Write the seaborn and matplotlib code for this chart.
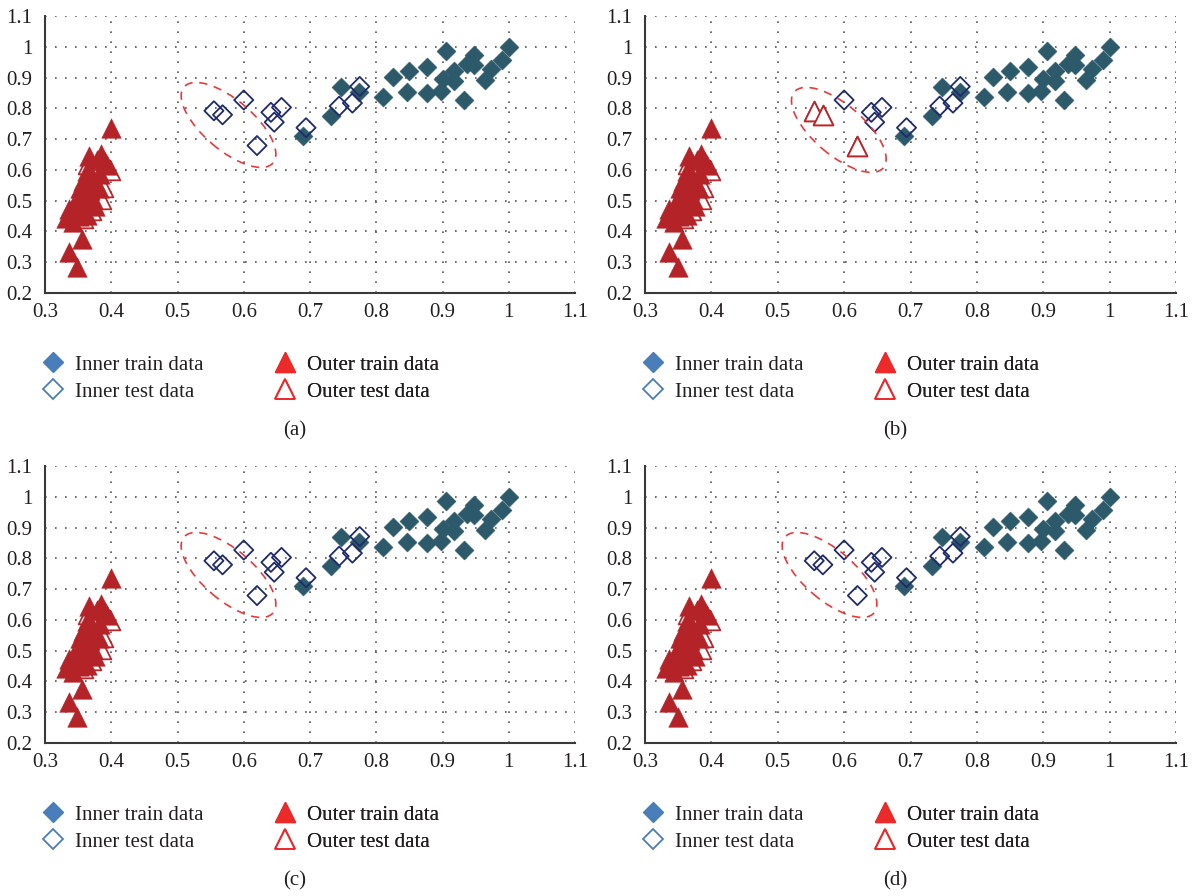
import numpy as np
import pandas as pd
import matplotlib
matplotlib.use("Agg")
import matplotlib.pyplot as plt
import seaborn as sns
from matplotlib.patches import Ellipse
from matplotlib.lines import Line2D
from matplotlib.transforms import ScaledTranslation

# ---------------- data ----------------
inner_train_x = [0.690, 0.732, 0.747, 0.774, 0.810, 0.825, 0.846, 0.850, 0.877, 0.877, 0.897, 0.900,
                 0.905, 0.917, 0.917, 0.932, 0.937, 0.948, 0.948, 0.964, 0.973, 0.990, 1.000]
inner_train_y = [0.711, 0.776, 0.870, 0.852, 0.836, 0.901, 0.852, 0.922, 0.934, 0.850, 0.856, 0.894,
                 0.986, 0.922, 0.889, 0.826, 0.944, 0.974, 0.941, 0.893, 0.929, 0.956, 1.000]

inner_test_x = [0.555, 0.568, 0.600, 0.620, 0.641, 0.646, 0.657, 0.694, 0.744, 0.764, 0.775]
inner_test_y = [0.792, 0.779, 0.827, 0.679, 0.787, 0.755, 0.803, 0.737, 0.807, 0.817, 0.871]

outer_train_x = [0.400, 0.367, 0.385, 0.391, 0.393, 0.378, 0.363, 0.371, 0.358, 0.376, 0.353, 0.368,
                 0.381, 0.361, 0.373, 0.351, 0.366, 0.356, 0.343, 0.336, 0.331, 0.343, 0.351, 0.363,
                 0.356, 0.336, 0.349, 0.376, 0.383]
outer_train_y = [0.736, 0.644, 0.650, 0.627, 0.617, 0.633, 0.595, 0.579, 0.563, 0.558, 0.541, 0.536,
                 0.541, 0.515, 0.504, 0.504, 0.488, 0.472, 0.482, 0.474, 0.445, 0.431, 0.450, 0.455,
                 0.377, 0.332, 0.285, 0.482, 0.587]

outer_test_x = [0.365, 0.398, 0.385, 0.388, 0.370, 0.357]
outer_test_y = [0.618, 0.600, 0.505, 0.543, 0.470, 0.445]

# inner test points drawn as outer-test triangles in panel (b)
panel_b_misclassified = [0, 1, 3]

panel_labels = ["(a)", "(b)", "(c)", "(d)"]
ellipse_centers = [(0.577, 0.746), (0.592, 0.730), (0.577, 0.746), (0.578, 0.746)]

x_ticks = [0.3, 0.4, 0.5, 0.6, 0.7, 0.8, 0.9, 1.0, 1.1]
x_tick_labels = ["0.3", "0.4", "0.5", "0.6", "0.7", "0.8", "0.9", "1", "1.1"]
y_ticks = [0.2, 0.3, 0.4, 0.5, 0.6, 0.7, 0.8, 0.9, 1.0, 1.1]
y_tick_labels = ["0.2", "0.3", "0.4", "0.5", "0.6", "0.7", "0.8", "0.9", "1", "1.1"]

legend_labels = ["Inner train data", "Inner test data", "Outer train data", "Outer test data"]

# ---------------- style ----------------
sns.set_theme(style="white")
plt.rcParams["font.family"] = ["Liberation Serif", "DejaVu Serif"]

C_IN_TRAIN = "#2d5a6b"
C_IN_TEST = "#1f2b6a"
C_OUT_TRAIN = "#b42327"
C_OUT_TEST = "#b8272b"
C_LEG_BLUE = "#4a7ebb"
C_LEG_RED = "#ec2a2a"
C_ELLIPSE = "#e8393a"
TXT = "#231f20"
FS = 15

W, H = 1193, 896
fig = plt.figure(figsize=(W / 100, H / 100), dpi=100)
fig.patch.set_facecolor("white")

# axes boxes in pixels: left, top, right, bottom
boxes = [(45, 16, 575, 293), (645, 16, 1176, 293), (45, 466, 575, 743), (645, 466, 1176, 743)]

for k, (l, t, r, b) in enumerate(boxes):
    ax = fig.add_axes([l / W, 1 - b / H, (r - l) / W, (b - t) / H])
    ax.set_facecolor("white")

    in_test_x = list(inner_test_x)
    in_test_y = list(inner_test_y)
    o_test_x = list(outer_test_x)
    o_test_y = list(outer_test_y)
    if k == 1:
        mis_x = [inner_test_x[i] for i in panel_b_misclassified]
        mis_y = [inner_test_y[i] for i in panel_b_misclassified]
        in_test_x = [v for i, v in enumerate(inner_test_x) if i not in panel_b_misclassified]
        in_test_y = [v for i, v in enumerate(inner_test_y) if i not in panel_b_misclassified]
        o_test_x += mis_x
        o_test_y += mis_y

    sns.scatterplot(x=o_test_x, y=o_test_y, marker="^", s=200, facecolor="white",
                    edgecolor=C_OUT_TEST, linewidth=1.3, ax=ax, zorder=3)
    sns.scatterplot(x=outer_train_x, y=outer_train_y, marker="^", s=200, color=C_OUT_TRAIN,
                    edgecolor=C_OUT_TRAIN, linewidth=0.3, ax=ax, zorder=4)
    sns.scatterplot(x=inner_train_x, y=inner_train_y, marker="D", s=95, color=C_IN_TRAIN,
                    edgecolor=C_IN_TRAIN, linewidth=0.3, ax=ax, zorder=5)
    sns.scatterplot(x=in_test_x, y=in_test_y, marker="D", s=95, facecolor="none",
                    edgecolor=C_IN_TEST, linewidth=1.3, ax=ax, zorder=6)
    if k == 1:
        # misclassified test triangles drawn on top so they stay visible
        sns.scatterplot(x=o_test_x[len(outer_test_x):], y=o_test_y[len(outer_test_y):],
                        marker="^", s=200, facecolor="white", edgecolor=C_OUT_TEST,
                        linewidth=1.3, ax=ax, zorder=6)

    ax.set_xlim(0.3, 1.1)
    ax.set_ylim(0.2, 1.1)
    ax.set_xticks(x_ticks)
    ax.set_xticklabels(x_tick_labels)
    ax.set_yticks(y_ticks)
    ax.set_yticklabels(y_tick_labels)
    ax.tick_params(axis="both", length=0, labelsize=FS, labelcolor=TXT)
    ax.tick_params(axis="x", pad=7)
    ax.tick_params(axis="y", pad=9)
    ax.grid(True, linestyle=(0, (1, 5)), color="#555555", linewidth=1.2, zorder=0)
    ax.set_axisbelow(True)
    for s in ["top", "right"]:
        ax.spines[s].set_visible(False)
    for s in ["left", "bottom"]:
        ax.spines[s].set_color("#3a3a3a")
        ax.spines[s].set_linewidth(1.5)

    cx, cy = ellipse_centers[k]
    ell = Ellipse((0, 0), width=1.17, height=0.50, angle=-40.5,
                  transform=fig.dpi_scale_trans + ScaledTranslation(cx, cy, ax.transData),
                  fill=False, edgecolor=C_ELLIPSE, linestyle=(0, (5, 4)), linewidth=1.2, zorder=7)
    ax.add_patch(ell)

    # legends (two columns)
    h_in = [Line2D([], [], marker="D", linestyle="none", markersize=10.5,
                   markerfacecolor=C_LEG_BLUE, markeredgecolor=C_LEG_BLUE),
            Line2D([], [], marker="D", linestyle="none", markersize=10.5,
                   markerfacecolor="none", markeredgecolor=C_LEG_BLUE, markeredgewidth=1.3)]
    h_out = [Line2D([], [], marker="^", linestyle="none", markersize=14,
                    markerfacecolor=C_LEG_RED, markeredgecolor=C_LEG_RED),
             Line2D([], [], marker="^", linestyle="none", markersize=14,
                    markerfacecolor="none", markeredgecolor=C_LEG_RED, markeredgewidth=1.3)]
    fs_px = FS * 100 / 72
    legend_top = b + 62
    for j, (hs, labs, mx) in enumerate([(h_in, legend_labels[:2], l + 8),
                                         (h_out, legend_labels[2:], l + 240)]):
        anchor_x = mx - fs_px * 0.5
        leg = ax.legend(hs, labs, loc="upper left",
                        bbox_to_anchor=(anchor_x / W, 1 - legend_top / H),
                        bbox_transform=fig.transFigure, frameon=False, fontsize=FS,
                        borderpad=0, borderaxespad=0, handlelength=1.0, handletextpad=0.56,
                        labelspacing=0.36)
        for txt in leg.get_texts():
            txt.set_color(TXT)
        ax.add_artist(leg)

    fig.text((l + 250) / W, 1 - (b + 138) / H, panel_labels[k], ha="center", va="center",
             fontsize=FS, color=TXT)

fig.savefig("out.png", dpi=100, facecolor="white")
